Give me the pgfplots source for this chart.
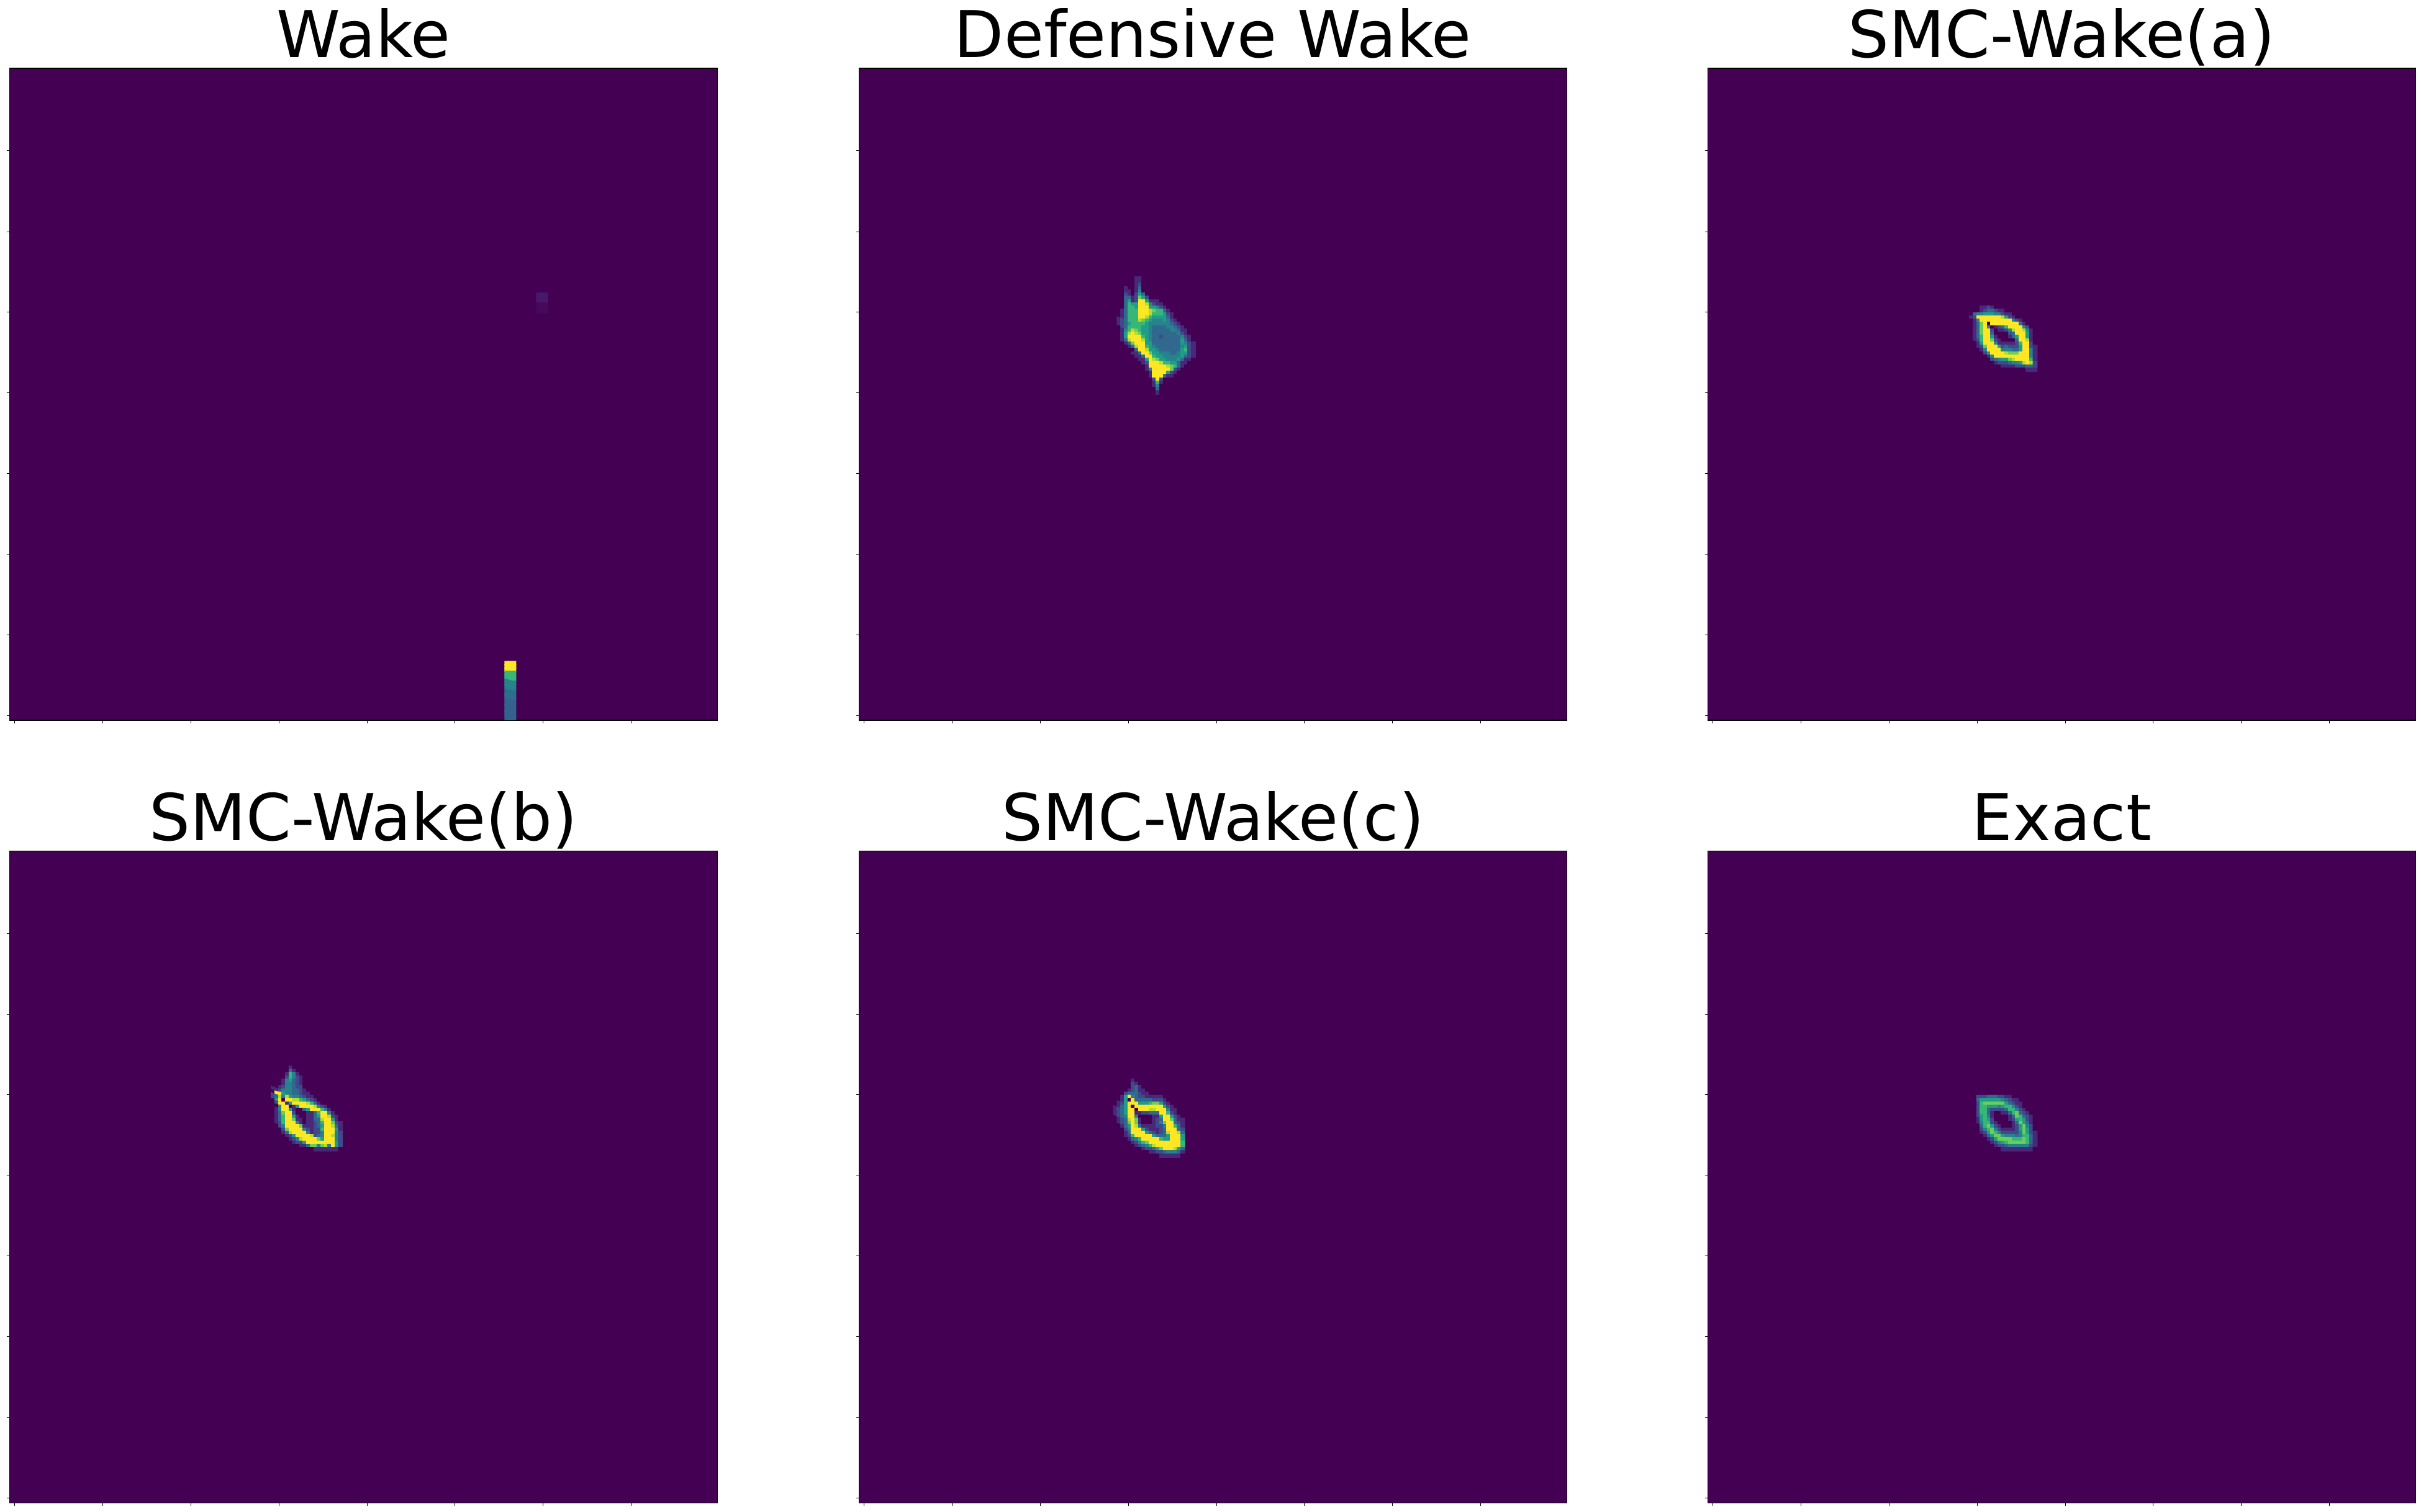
\documentclass[border=0pt]{standalone}
\usepackage{fontspec}
\setmainfont{DejaVu Sans}
\usepackage{pgfplots}
\pgfplotsset{compat=1.18}
\definecolor{vbg}{HTML}{440154}

% one reference pixel is 0.2pt, a cell is 1x1 in a 200x200 grid
\pgfplotsset{panel/.style={
    scale only axis,
    width=228pt, height=210pt,
    anchor=south west,
    xmin=0, xmax=200, ymin=0, ymax=200,
    axis background/.style={fill=vbg},
    colormap/viridis,
    point meta min=0, point meta max=9,
    axis line style={line width=0.27pt, black},
    tick align=outside,
    major tick length=0.95pt,
    tick style={line width=0.2pt, black},
    xtick pos=bottom, ytick pos=left,
    xtick={1.4,26.3,51.2,76.1,101,125.9,150.8,175.7},
    ytick={1.5,26.2,51,75.7,100.5,125.2,149.9,174.7},
    xticklabels={}, yticklabels={},
    every axis title shift=0pt,
    title style={at={(0.5,1)}, anchor=base, yshift=3.4pt, font=\fontsize{20.8}{25}\selectfont},
}}

% cols, first column, top edge, values row by row from the top
\newcommand{\cellplot}[4]{\addplot[matrix plot*, mesh/cols=#1, point meta=explicit]
    table[row sep=crcr, header=false, meta index=0,
          x expr={#2+0.5+mod(\coordindex,#1)},
          y expr={#3-0.5-floor(\coordindex/#1)}] {#4};}

\begin{document}
\begin{tikzpicture}
\path[use as bounding box] (0,0) rectangle (779.8pt,487pt);

\begin{axis}[panel, at={(3.06pt,255pt)}, title={Wake}]
\cellplot{3}{140}{18}{
9\\9\\9\\9\\9\\9\\9\\9\\9\\
6\\6\\6\\6\\6\\6\\6\\6\\6\\
4\\4\\4\\4\\4\\4\\4\\4\\4\\
3.2\\3.2\\3.2\\3.2\\3.2\\3.2\\3.2\\3.2\\3.2\\
2.8\\2.8\\2.8\\2.8\\2.8\\2.8\\2.8\\2.8\\2.8\\
2.8\\2.8\\2.8\\2.8\\2.8\\2.8\\2.8\\2.8\\2.8\\
}
\cellplot{3}{149}{131}{
0.6\\0.6\\0.6\\0.6\\0.6\\0.6\\0.6\\0.6\\0.6\\
0.2\\0.2\\0.2\\0.2\\0.2\\0.2\\0.2\\0.2\\0.2\\
}
\end{axis}

\begin{axis}[panel, at={(276.66pt,255pt)}, title={Defensive Wake}]
\cellplot{22}{73}{136}{
0\\0\\0\\0\\0\\1\\1\\0\\0\\0\\0\\0\\0\\0\\0\\0\\0\\0\\0\\0\\0\\0\\
0\\0\\0\\0\\0\\1\\1\\0\\0\\0\\0\\0\\0\\0\\0\\0\\0\\0\\0\\0\\0\\0\\
0\\0\\0\\0\\0\\1\\2\\0\\0\\0\\0\\0\\0\\0\\0\\0\\0\\0\\0\\0\\0\\0\\
0\\0\\1\\0\\0\\1\\3\\0\\0\\0\\0\\0\\0\\0\\0\\0\\0\\0\\0\\0\\0\\0\\
0\\0\\1\\1\\0\\1\\4\\0\\0\\0\\0\\0\\0\\0\\0\\0\\0\\0\\0\\0\\0\\0\\
0\\0\\2\\1\\0\\2\\5\\3\\0\\0\\0\\0\\0\\0\\0\\0\\0\\0\\0\\0\\0\\0\\
0\\0\\3\\3\\1\\2\\7\\5\\2\\0\\0\\0\\0\\0\\0\\0\\0\\0\\0\\0\\0\\0\\
0\\0\\3\\5\\1\\2\\9\\9\\5\\1\\1\\1\\0\\0\\0\\0\\0\\0\\0\\0\\0\\0\\
0\\0\\3\\6\\5\\5\\9\\9\\8\\4\\2\\1\\1\\0\\0\\0\\0\\0\\0\\0\\0\\0\\
0\\0\\3\\6\\6\\5\\9\\9\\9\\5\\5\\4\\2\\1\\0\\0\\0\\0\\0\\0\\0\\0\\
0\\1\\3\\6\\6\\6\\9\\9\\9\\8\\7\\6\\6\\3\\1\\0\\0\\0\\0\\0\\0\\0\\
0\\1\\3\\6\\6\\6\\9\\9\\9\\8\\6\\6\\6\\5\\2\\1\\0\\0\\0\\0\\0\\0\\
0\\1\\3\\6\\6\\6\\9\\9\\8\\6\\5\\5\\5\\5\\3\\1\\0\\0\\0\\0\\0\\0\\
1\\2\\3\\6\\6\\6\\8\\7\\6\\5\\4\\4\\4\\5\\4\\2\\1\\0\\0\\0\\0\\0\\
1\\2\\3\\5\\6\\6\\6\\6\\5\\4\\4\\4\\4\\4\\4\\3\\2\\1\\0\\0\\0\\0\\
0\\2\\3\\6\\6\\6\\6\\5\\5\\4\\3\\3\\3\\3\\4\\4\\3\\2\\1\\0\\0\\0\\
0\\1\\4\\6\\8\\7\\6\\5\\5\\4\\3\\3\\3\\3\\3\\4\\4\\3\\1\\1\\0\\0\\
0\\1\\5\\8\\9\\8\\7\\5\\5\\4\\3\\3\\3\\3\\3\\3\\3\\4\\2\\1\\0\\0\\
0\\1\\5\\9\\9\\9\\9\\6\\5\\4\\3\\3\\2\\3\\3\\3\\3\\3\\4\\2\\1\\0\\
0\\1\\3\\8\\9\\9\\9\\8\\5\\4\\3\\3\\3\\3\\3\\3\\3\\3\\5\\3\\1\\0\\
0\\0\\1\\3\\7\\9\\9\\9\\5\\5\\3\\3\\3\\3\\3\\3\\3\\3\\5\\4\\2\\1\\
0\\0\\0\\1\\3\\8\\9\\9\\6\\5\\4\\3\\3\\3\\3\\3\\3\\3\\4\\5\\2\\1\\
0\\0\\0\\0\\0\\3\\9\\9\\8\\5\\5\\4\\3\\3\\3\\3\\3\\3\\5\\6\\2\\1\\
0\\0\\0\\0\\1\\1\\3\\9\\9\\7\\5\\5\\4\\4\\4\\3\\3\\4\\5\\5\\2\\1\\
0\\0\\0\\0\\0\\1\\1\\3\\9\\9\\6\\5\\5\\4\\4\\4\\4\\4\\5\\3\\2\\1\\
0\\0\\0\\0\\0\\0\\1\\1\\5\\9\\8\\7\\5\\5\\4\\4\\4\\5\\3\\1\\1\\0\\
0\\0\\0\\0\\0\\0\\0\\1\\2\\9\\9\\9\\8\\6\\6\\5\\5\\3\\1\\1\\0\\0\\
0\\0\\0\\0\\0\\0\\0\\0\\1\\9\\9\\9\\9\\9\\8\\7\\6\\3\\1\\0\\0\\0\\
0\\0\\0\\0\\0\\0\\0\\0\\1\\4\\9\\9\\9\\9\\9\\7\\2\\1\\0\\0\\0\\0\\
0\\0\\0\\0\\0\\0\\0\\0\\0\\1\\9\\9\\9\\9\\5\\2\\1\\0\\0\\0\\0\\0\\
0\\0\\0\\0\\0\\0\\0\\0\\0\\1\\9\\9\\9\\3\\1\\1\\0\\0\\0\\0\\0\\0\\
0\\0\\0\\0\\0\\0\\0\\0\\0\\0\\2\\9\\2\\0\\0\\0\\0\\0\\0\\0\\0\\0\\
0\\0\\0\\0\\0\\0\\0\\0\\0\\0\\1\\6\\1\\0\\0\\0\\0\\0\\0\\0\\0\\0\\
0\\0\\0\\0\\0\\0\\0\\0\\0\\0\\1\\4\\0\\0\\0\\0\\0\\0\\0\\0\\0\\0\\
0\\0\\0\\0\\0\\0\\0\\0\\0\\0\\0\\3\\0\\0\\0\\0\\0\\0\\0\\0\\0\\0\\
0\\0\\0\\0\\0\\0\\0\\0\\0\\0\\0\\1\\0\\0\\0\\0\\0\\0\\0\\0\\0\\0\\
}
\end{axis}

\begin{axis}[panel, at={(550.06pt,255pt)}, title={SMC-Wake(a)}]
\cellplot{19}{74}{127}{
0\\0\\0\\1\\1\\2\\1\\0\\0\\0\\0\\0\\0\\0\\0\\0\\0\\0\\0\\
0\\0\\0\\1\\2\\3\\3\\2\\1\\1\\0\\0\\0\\0\\0\\0\\0\\0\\0\\
0\\3\\4\\4\\5\\5\\5\\4\\4\\2\\1\\1\\0\\0\\0\\0\\0\\0\\0\\
1\\2\\9\\9\\9\\9\\9\\9\\9\\8\\5\\2\\1\\0\\0\\0\\0\\0\\0\\
0\\1\\4\\9\\9\\9\\9\\9\\9\\9\\9\\9\\4\\2\\1\\0\\0\\0\\0\\
0\\1\\3\\7\\9\\0\\9\\9\\9\\9\\9\\9\\9\\9\\3\\1\\0\\0\\0\\
0\\1\\3\\7\\9\\4\\0\\1\\2\\3\\6\\9\\9\\9\\9\\4\\2\\0\\0\\
0\\1\\3\\7\\9\\9\\2\\0\\1\\1\\2\\4\\8\\9\\9\\8\\4\\1\\0\\
0\\1\\3\\7\\9\\9\\3\\0\\0\\0\\0\\2\\3\\9\\9\\9\\5\\1\\0\\
0\\1\\3\\6\\9\\9\\5\\1\\0\\0\\0\\1\\3\\5\\9\\9\\5\\1\\0\\
0\\1\\2\\6\\9\\9\\7\\2\\1\\0\\0\\0\\0\\3\\9\\9\\8\\1\\0\\
0\\0\\1\\5\\9\\9\\9\\4\\1\\1\\1\\1\\1\\2\\6\\9\\9\\2\\0\\
0\\0\\1\\2\\7\\9\\9\\9\\5\\2\\3\\2\\2\\2\\5\\9\\9\\2\\1\\
0\\0\\0\\1\\4\\9\\9\\9\\9\\4\\4\\4\\3\\3\\5\\9\\9\\4\\1\\
0\\0\\0\\0\\2\\5\\9\\9\\9\\9\\8\\7\\7\\7\\9\\9\\9\\4\\1\\
0\\0\\0\\0\\0\\1\\4\\9\\9\\9\\9\\9\\9\\9\\9\\9\\9\\4\\1\\
0\\0\\0\\0\\0\\0\\2\\3\\4\\5\\5\\7\\8\\9\\9\\9\\9\\6\\1\\
0\\0\\0\\0\\0\\0\\0\\1\\2\\2\\2\\3\\4\\4\\5\\8\\9\\8\\2\\
0\\0\\0\\0\\0\\0\\0\\0\\0\\1\\1\\1\\1\\2\\2\\2\\3\\3\\2\\
0\\0\\0\\0\\0\\0\\0\\0\\0\\0\\0\\0\\0\\0\\0\\0\\1\\1\\1\\
}
\end{axis}

\begin{axis}[panel, at={(3.06pt,2.94pt)}, title={SMC-Wake(b)}]
\cellplot{20}{74}{134}{
0\\0\\0\\0\\0\\1\\0\\0\\0\\0\\0\\0\\0\\0\\0\\0\\0\\0\\0\\0\\
0\\0\\0\\0\\0\\3\\1\\0\\0\\0\\0\\0\\0\\0\\0\\0\\0\\0\\0\\0\\
0\\0\\0\\0\\1\\6\\4\\1\\0\\0\\0\\0\\0\\0\\0\\0\\0\\0\\0\\0\\
0\\0\\0\\0\\2\\6\\4\\2\\1\\0\\0\\0\\0\\0\\0\\0\\0\\0\\0\\0\\
0\\0\\0\\1\\4\\5\\3\\2\\1\\0\\0\\0\\0\\0\\0\\0\\0\\0\\0\\0\\
0\\0\\0\\1\\4\\4\\3\\2\\1\\0\\0\\0\\0\\0\\0\\0\\0\\0\\0\\0\\
0\\0\\1\\2\\4\\4\\3\\2\\2\\0\\0\\0\\0\\0\\0\\0\\0\\0\\0\\0\\
1\\1\\2\\4\\4\\4\\3\\3\\2\\1\\0\\0\\0\\0\\0\\0\\0\\0\\0\\0\\
0\\9\\9\\5\\4\\4\\3\\3\\2\\1\\1\\0\\0\\0\\0\\0\\0\\0\\0\\0\\
2\\3\\8\\4\\8\\5\\4\\4\\3\\2\\1\\1\\0\\0\\0\\0\\0\\0\\0\\0\\
0\\5\\9\\0\\9\\9\\8\\8\\6\\5\\3\\2\\1\\0\\0\\0\\0\\0\\0\\0\\
0\\2\\9\\9\\1\\5\\9\\9\\9\\9\\8\\6\\3\\1\\0\\0\\0\\0\\0\\0\\
0\\0\\4\\9\\9\\0\\1\\5\\9\\9\\9\\9\\8\\4\\2\\1\\0\\0\\0\\0\\
0\\1\\4\\9\\9\\5\\1\\0\\0\\3\\5\\9\\9\\9\\6\\4\\1\\0\\0\\0\\
0\\1\\3\\7\\9\\9\\2\\0\\0\\0\\1\\1\\3\\6\\9\\9\\4\\1\\0\\0\\
0\\1\\3\\6\\9\\9\\5\\1\\0\\0\\1\\1\\3\\5\\9\\9\\8\\2\\1\\0\\
0\\1\\3\\6\\9\\9\\7\\1\\1\\0\\1\\1\\3\\3\\8\\9\\9\\5\\1\\0\\
0\\1\\2\\6\\9\\9\\9\\4\\1\\0\\1\\1\\2\\3\\6\\9\\9\\7\\2\\1\\
0\\0\\2\\4\\9\\9\\9\\9\\7\\1\\1\\1\\2\\3\\5\\9\\9\\8\\3\\1\\
0\\0\\0\\2\\7\\9\\9\\9\\9\\4\\2\\1\\2\\2\\6\\9\\9\\9\\5\\1\\
0\\0\\0\\1\\3\\8\\9\\9\\9\\9\\4\\1\\2\\2\\4\\9\\9\\9\\4\\2\\
0\\0\\0\\0\\1\\2\\5\\9\\9\\9\\9\\8\\2\\3\\4\\9\\9\\8\\4\\2\\
0\\0\\0\\0\\0\\1\\2\\4\\8\\9\\9\\9\\9\\7\\5\\9\\9\\9\\4\\2\\
0\\0\\0\\0\\0\\0\\1\\2\\2\\5\\9\\9\\9\\9\\9\\9\\9\\9\\5\\2\\
0\\0\\0\\0\\0\\0\\0\\0\\1\\1\\3\\7\\7\\4\\7\\8\\4\\9\\5\\2\\
0\\0\\0\\0\\0\\0\\0\\0\\0\\0\\0\\0\\1\\1\\1\\1\\1\\1\\1\\0\\
}
\end{axis}

\begin{axis}[panel, at={(276.66pt,2.94pt)}, title={SMC-Wake(c)}]
\cellplot{20}{72}{130}{
0\\0\\0\\0\\0\\1\\0\\0\\0\\0\\0\\0\\0\\0\\0\\0\\0\\0\\0\\0\\
0\\0\\0\\0\\0\\2\\1\\0\\0\\0\\0\\0\\0\\0\\0\\0\\0\\0\\0\\0\\
0\\0\\0\\0\\0\\2\\3\\1\\0\\0\\0\\0\\0\\0\\0\\0\\0\\0\\0\\0\\
0\\0\\0\\0\\1\\2\\3\\1\\1\\0\\0\\0\\0\\0\\0\\0\\0\\0\\0\\0\\
0\\0\\0\\2\\3\\3\\3\\2\\1\\1\\0\\0\\0\\0\\0\\0\\0\\0\\0\\0\\
0\\0\\1\\5\\9\\4\\3\\2\\2\\1\\1\\1\\1\\1\\0\\0\\0\\0\\0\\0\\
0\\0\\1\\5\\0\\9\\3\\3\\3\\3\\3\\2\\2\\2\\1\\0\\0\\0\\0\\0\\
0\\1\\2\\5\\9\\9\\9\\5\\5\\5\\6\\7\\7\\5\\2\\1\\0\\0\\0\\0\\
0\\1\\3\\5\\9\\0\\9\\9\\9\\9\\9\\9\\9\\9\\5\\2\\1\\0\\0\\0\\
1\\2\\3\\5\\9\\9\\0\\9\\9\\9\\8\\8\\9\\9\\9\\4\\1\\1\\0\\0\\
1\\2\\3\\5\\9\\9\\1\\1\\2\\2\\3\\3\\3\\9\\9\\6\\2\\1\\0\\0\\
1\\2\\3\\4\\9\\9\\4\\0\\0\\0\\0\\1\\1\\5\\9\\9\\5\\2\\1\\0\\
0\\1\\2\\3\\8\\9\\7\\1\\0\\0\\0\\1\\2\\3\\9\\9\\7\\3\\1\\1\\
0\\1\\2\\3\\7\\9\\7\\1\\0\\0\\0\\1\\2\\4\\7\\9\\9\\3\\2\\1\\
0\\0\\1\\3\\5\\9\\8\\3\\1\\1\\1\\1\\2\\2\\4\\9\\9\\6\\3\\1\\
0\\0\\0\\2\\4\\9\\9\\9\\5\\2\\1\\1\\1\\2\\3\\9\\9\\9\\3\\2\\
0\\0\\0\\1\\3\\9\\9\\9\\9\\5\\3\\2\\1\\2\\3\\8\\9\\9\\8\\3\\
0\\0\\0\\1\\2\\6\\9\\9\\9\\9\\9\\5\\3\\3\\3\\5\\9\\9\\9\\5\\
0\\0\\0\\0\\1\\3\\4\\6\\9\\9\\9\\9\\9\\6\\5\\5\\9\\9\\9\\5\\
0\\0\\0\\0\\0\\1\\2\\4\\6\\7\\9\\9\\9\\9\\9\\9\\9\\9\\9\\6\\
0\\0\\0\\0\\0\\0\\1\\2\\3\\4\\6\\8\\9\\9\\9\\9\\9\\9\\9\\6\\
0\\0\\0\\0\\0\\0\\0\\0\\1\\2\\2\\3\\5\\7\\9\\9\\9\\8\\5\\3\\
0\\0\\0\\0\\0\\0\\0\\0\\0\\0\\1\\1\\2\\2\\3\\4\\4\\4\\3\\1\\
0\\0\\0\\0\\0\\0\\0\\0\\0\\0\\0\\0\\0\\1\\1\\1\\1\\1\\1\\0\\
}
\end{axis}

\begin{axis}[panel, at={(550.06pt,2.94pt)}, title={Exact}]
\cellplot{18}{75}{125}{
0\\2\\2\\2\\3\\3\\3\\2\\2\\1\\1\\0\\0\\0\\0\\0\\0\\0\\
0\\3\\5\\5\\5\\5\\5\\5\\4\\3\\2\\1\\1\\0\\0\\0\\0\\0\\
0\\2\\6\\7\\7\\7\\7\\7\\7\\5\\3\\2\\1\\1\\0\\0\\0\\0\\
0\\2\\6\\6\\5\\5\\5\\4\\5\\6\\6\\4\\2\\1\\0\\0\\0\\0\\
0\\2\\6\\6\\3\\2\\2\\2\\2\\3\\6\\6\\4\\2\\1\\0\\0\\0\\
0\\2\\6\\6\\3\\1\\0\\0\\1\\1\\3\\6\\7\\3\\2\\1\\0\\0\\
0\\2\\5\\6\\4\\1\\0\\0\\0\\0\\1\\3\\7\\6\\3\\2\\1\\0\\
0\\1\\5\\6\\5\\2\\0\\0\\0\\0\\1\\2\\5\\6\\5\\2\\1\\0\\
0\\1\\4\\6\\6\\2\\1\\0\\0\\0\\0\\1\\3\\7\\5\\3\\1\\0\\
0\\0\\3\\6\\7\\5\\2\\1\\0\\0\\0\\1\\2\\5\\7\\4\\2\\0\\
0\\0\\2\\4\\6\\7\\4\\2\\1\\1\\1\\1\\2\\5\\7\\5\\2\\0\\
0\\0\\1\\2\\5\\7\\6\\4\\2\\2\\2\\2\\2\\4\\7\\5\\2\\1\\
0\\0\\0\\1\\3\\5\\7\\7\\5\\4\\4\\4\\3\\4\\6\\6\\3\\1\\
0\\0\\0\\0\\1\\2\\5\\7\\7\\7\\7\\6\\6\\6\\7\\6\\3\\1\\
0\\0\\0\\0\\0\\1\\2\\4\\5\\6\\7\\7\\7\\7\\7\\6\\3\\1\\
0\\0\\0\\0\\0\\0\\1\\2\\2\\3\\4\\4\\4\\4\\4\\4\\2\\1\\
0\\0\\0\\0\\0\\0\\0\\0\\1\\1\\1\\1\\1\\1\\1\\1\\1\\0\\
}
\end{axis}
\end{tikzpicture}
\end{document}
